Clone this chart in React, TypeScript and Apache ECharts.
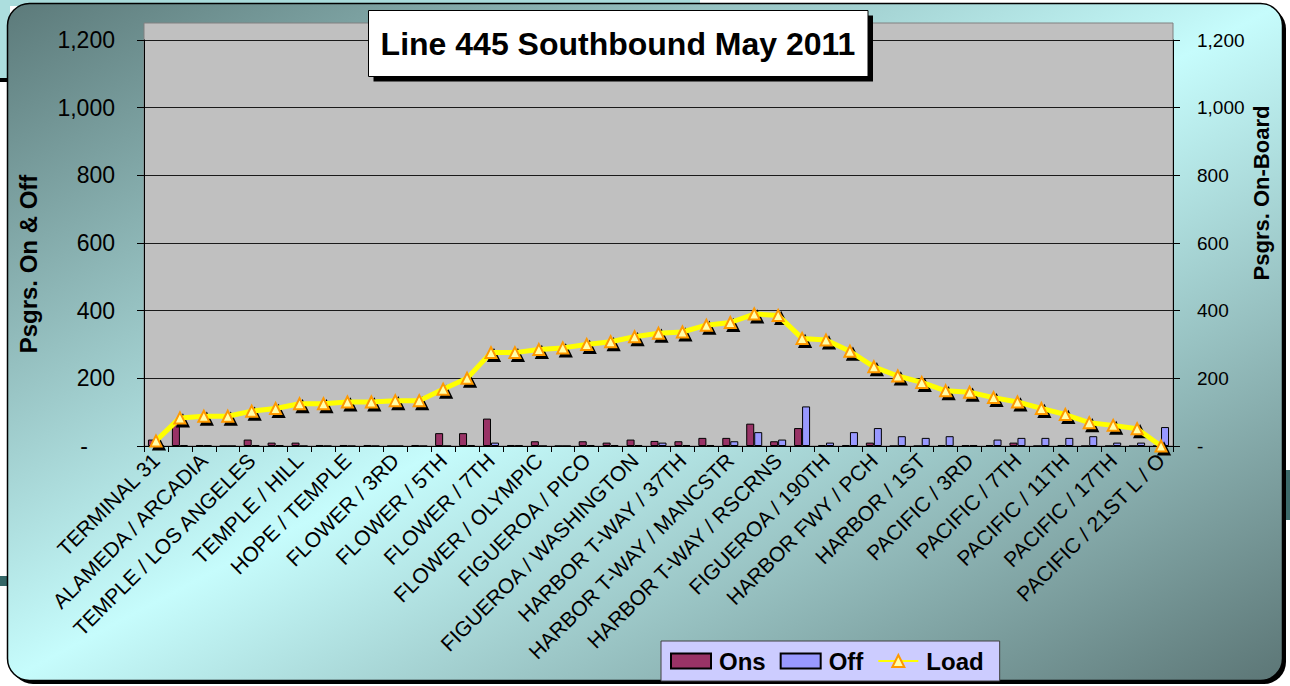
import React, { useEffect, useRef } from "react";
import * as echarts from "echarts";

const stops: string[] = [
  "TERMINAL 31", "PATSAOURAS PLAZA", "ALAMEDA / ARCADIA", "TEMPLE / ALAMEDA",
  "TEMPLE / LOS ANGELES", "TEMPLE / SPRING", "TEMPLE / HILL", "TEMPLE / GRAND",
  "HOPE / TEMPLE", "FLOWER / 2ND", "FLOWER / 3RD", "FLOWER / 4TH",
  "FLOWER / 5TH", "FLOWER / 6TH", "FLOWER / 7TH", "FLOWER / 8TH",
  "FLOWER / OLYMPIC", "FLOWER / PICO", "FIGUEROA / PICO", "FIGUEROA / VENICE",
  "FIGUEROA / WASHINGTON", "FIGUEROA / ADAMS", "HARBOR T-WAY / 37TH", "HARBOR T-WAY / SLAUSON",
  "HARBOR T-WAY / MANCSTR", "HARBOR T-WAY / I-105", "HARBOR T-WAY / RSCRNS", "HARBOR GATEWAY TC",
  "FIGUEROA / 190TH", "FIGUEROA / CARSON", "HARBOR FWY / PCH", "HARBOR / C ST",
  "HARBOR / 1ST", "PACIFIC / 2ND", "PACIFIC / 3RD", "PACIFIC / 5TH",
  "PACIFIC / 7TH", "PACIFIC / 9TH", "PACIFIC / 11TH", "PACIFIC / 14TH",
  "PACIFIC / 17TH", "PACIFIC / 19TH", "PACIFIC / 21ST L / O",
];

const ons: number[] = [
  19, 71, 3, 0, 19, 10, 10, 3, 3, 3, 0, 3, 38, 38, 81, 3, 14, 0, 14, 10, 19, 15,
  14, 24, 24, 66, 14, 53, 3, 3, 10, 0, 0, 3, 2, 3, 10, 0, 3, 0, 0, 0, 0,
];

const offs: number[] = [
  2, 3, 2, 0, 3, 2, 0, 0, 0, 0, 0, 0, 0, 3, 10, 2, 0, 0, 3, 3, 3, 10,
  3, 3, 14, 41, 19, 117, 10, 41, 53, 29, 24, 29, 3, 19, 24, 24, 24, 29, 10, 10, 56,
];

const load: number[] = [
  15, 83, 88, 88, 103, 111, 125, 125, 130, 130, 134, 134, 168, 200, 276, 276, 285, 290,
  300, 308, 323, 333, 337, 357, 365, 390, 386, 318, 313, 280, 234, 207, 188, 163, 159,
  143, 130, 111, 93, 69, 61, 51, 0,
];

const yTicks = { min: 0, max: 1200, interval: 200 };

const FONT = "'Liberation Sans', Arial, Helvetica, sans-serif";

const fmt = (v: number) => (v === 0 ? "-" : v.toLocaleString("en-US"));

export default function App() {
  const ref = useRef<HTMLDivElement>(null);

  useEffect(() => {
    if (!ref.current) return;
    const chart = echarts.init(ref.current, undefined, { renderer: "svg" });

    const frameFill = new echarts.graphic.LinearGradient(0, 0, 1, 1, [
      { offset: 0, color: "#5c7a7a" },
      { offset: 0.5, color: "#c6fcfc" },
      { offset: 1, color: "#5c7676" },
    ]);

    chart.setOption({
      animation: false,
      backgroundColor: "#ffffff",
      textStyle: { fontFamily: FONT },
      graphic: [
        { type: "rect", z: -30, shape: { x: 0, y: 0, width: 700, height: 6 }, style: { fill: "#a8dada" } },
        { type: "rect", z: -30, shape: { x: 0, y: 0, width: 10, height: 78 }, style: { fill: "#acdede" } },
        { type: "rect", z: -30, shape: { x: 0, y: 78, width: 10, height: 4 }, style: { fill: "#000" } },
        { type: "rect", z: -30, shape: { x: 0, y: 576, width: 10, height: 10 }, style: { fill: "#336666" } },
        { type: "rect", z: -30, shape: { x: 1280, y: 470, width: 10, height: 50 }, style: { fill: "#3d6b6b" } },
        {
          type: "rect", z: -20,
          shape: { x: 11, y: 7, width: 1275, height: 677, r: 22 },
          style: { fill: "#000" },
        },
        {
          type: "rect", z: -19,
          shape: { x: 7.5, y: 3.5, width: 1275, height: 677, r: 22 },
          style: { fill: frameFill, stroke: "#000", lineWidth: 1.5 },
        },
        {
          type: "rect", z: -10,
          shape: { x: 144, y: 23, width: 1029, height: 423 },
          style: { fill: "#c0c0c0", stroke: "#808080", lineWidth: 1 },
        },
        {
          type: "text", z: 10, x: 28, y: 264, rotation: Math.PI / 2,
          style: {
            text: "Psgrs. On & Off", fill: "#000",
            font: `bold 24px ${FONT}`, textAlign: "center", textVerticalAlign: "middle",
          },
        },
        {
          type: "text", z: 10, x: 1261, y: 193, rotation: Math.PI / 2,
          style: {
            text: "Psgrs. On-Board", fill: "#000",
            font: `bold 22px ${FONT}`, textAlign: "center", textVerticalAlign: "middle",
          },
        },
        {
          type: "rect", z: 50,
          shape: { x: 373.5, y: 15.5, width: 499.5, height: 66 },
          style: { fill: "#000" },
        },
        {
          type: "rect", z: 51,
          shape: { x: 368.5, y: 10.5, width: 499.5, height: 66 },
          style: { fill: "#fff", stroke: "#000", lineWidth: 1 },
        },
        {
          type: "text", z: 52, x: 618, y: 44,
          style: {
            text: "Line 445 Southbound May 2011", fill: "#000",
            font: `bold 32px ${FONT}`, textAlign: "center", textVerticalAlign: "middle",
          },
        },
      ],
      grid: { left: 144, right: 117, top: 40, bottom: 240, containLabel: false },
      legend: {
        data: [
          { name: "Ons", icon: "rect" },
          { name: "Off", icon: "rect" },
          { name: "Load" },
        ],
        left: 661,
        top: 641,
        orient: "horizontal",
        backgroundColor: "#ccccff",
        borderColor: "#404040",
        borderWidth: 1,
        borderRadius: 0,
        padding: [8, 16, 8, 9],
        itemWidth: 40,
        itemHeight: 15,
        itemGap: 14,
        textStyle: {
          fontSize: 24, fontWeight: "bold", color: "#000", fontFamily: FONT,
          padding: [0, 0, 0, 3],
        },
      },
      xAxis: {
        type: "category",
        data: stops,
        boundaryGap: true,
        axisLine: { show: true, lineStyle: { color: "#000", width: 1 } },
        axisTick: { show: true, interval: 0, length: 6, lineStyle: { color: "#000" } },
        axisLabel: {
          interval: 1,
          rotate: 45,
          fontSize: 21,
          color: "#000",
          margin: 11,
          fontFamily: FONT,
        },
        splitLine: { show: false },
      },
      yAxis: [
        {
          type: "value",
          position: "left",
          ...yTicks,
          axisLine: { show: true, lineStyle: { color: "#000" } },
          axisTick: { show: true, length: 7, lineStyle: { color: "#000" } },
          axisLabel: {
            fontSize: 23,
            color: "#000",
            margin: 29,
            fontFamily: FONT,
            formatter: (v: number) => (v === 0 ? "{d|-}" : fmt(v)),
            rich: { d: { fontSize: 23, color: "#000", padding: [0, 27, 0, 0], fontFamily: FONT } },
          },
          splitLine: { show: true, lineStyle: { color: "#1a1a1a", width: 1 } },
        },
        {
          type: "value",
          position: "right",
          ...yTicks,
          axisLine: { show: true, lineStyle: { color: "#000" } },
          axisTick: { show: true, length: 7, lineStyle: { color: "#000" } },
          axisLabel: { fontSize: 19, color: "#000", margin: 24, formatter: fmt, fontFamily: FONT },
          splitLine: { show: false },
        },
      ],
      series: [
        {
          name: "Ons",
          type: "bar",
          data: ons,
          barWidth: 8,
          barGap: "0%",
          itemStyle: { color: "#993366", borderColor: "#000", borderWidth: 1 },
        },
        {
          name: "Off",
          type: "bar",
          data: offs,
          barWidth: 8,
          barGap: "0%",
          itemStyle: { color: "#9999ff", borderColor: "#000", borderWidth: 1 },
        },
        {
          name: "LoadShadow",
          type: "line",
          yAxisIndex: 1,
          data: load,
          symbol: "triangle",
          symbolSize: 11,
          symbolOffset: [3, 3],
          showAllSymbol: true,
          silent: true,
          lineStyle: { opacity: 0, width: 0 },
          itemStyle: { color: "#000", borderColor: "#000", borderWidth: 2 },
          z: 3,
        },
        {
          name: "Load",
          type: "line",
          yAxisIndex: 1,
          data: load,
          symbol: "triangle",
          symbolSize: 11,
          showAllSymbol: true,
          lineStyle: { color: "#ffff00", width: 5 },
          itemStyle: { color: "#ffffaa", borderColor: "#ff9900", borderWidth: 2 },
          z: 4,
        },
      ],
    });

    return () => chart.dispose();
  }, []);

  return (
    <div
      ref={ref}
      style={{ position: "absolute", left: 0, top: 0, width: 1290, height: 686 }}
    />
  );
}
